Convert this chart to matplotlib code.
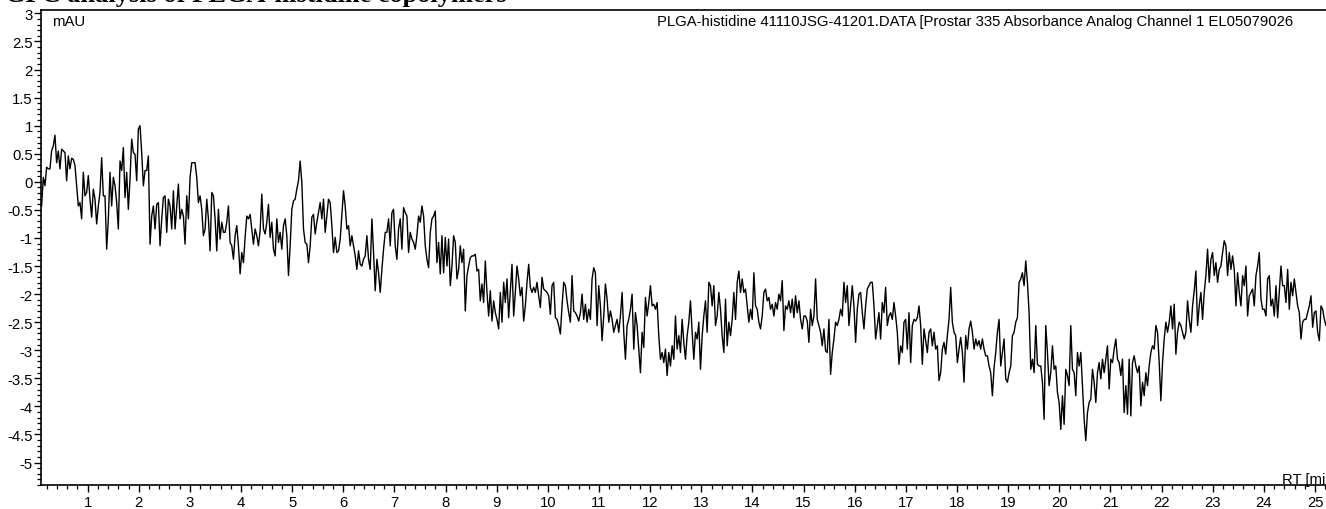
import numpy as np
import matplotlib
matplotlib.use("Agg")
import matplotlib.pyplot as plt
from matplotlib.ticker import MultipleLocator, FuncFormatter

# ---------------- data ----------------
rt_start = 0.10     # min, first sample
rt_end = 25.215     # min, last sample

signal_part1 = [
    -0.43, 0.08, -0.07, 0.26, 0.23, 0.23, 0.55, 0.64, 0.83, 0.34, 0.55, 0.23, 0.58, 0.55, 0.52, 0.02,
    0.46, 0.23, 0.42, 0.40, 0.29, -0.07, -0.43, -0.37, -0.66, 0.17, -0.25, -0.19, 0.11, -0.31, -0.63,
    -0.13, -0.31, -0.75, -0.43, -0.19, 0.43, -0.25, -0.25, -1.20, -0.66, 0.17, -0.43, 0.08, -0.07,
    -0.37, -0.84, 0.37, 0.20, 0.61, -0.28, 0.17, -0.49, 0.05, 0.76, 0.52, 0.49, 0.02, 0.94, 1.00,
    0.52, -0.07, 0.20, 0.20, 0.46, -1.11, -0.61, -0.43, -0.84, -0.40, -0.37, -1.14, -0.66, -0.28,
    -0.25, -0.90, -0.31, -0.43, -0.84, -0.16, -0.84, -0.43, -0.04, -0.66, -0.49, -0.61, -1.11, -0.25,
    -0.66, 0.08, 0.34, 0.34, 0.34, 0.08, -0.37, -0.25, -0.49, -0.96, -0.84, -0.31, -0.66, -1.23,
    -0.19, -0.25, -0.66, -1.23, -0.49, -1.02, -0.72, -0.90, -0.90, -0.72, -0.43, -1.08, -1.14, -1.38,
    -0.96, -0.78, -1.14, -1.64, -1.26, -1.44, -0.99, -0.61, -0.66, -0.58, -0.84, -1.11, -0.84, -0.96,
    -1.14, -0.87, -0.22, -0.84, -0.93, -0.72, -0.40, -0.99, -0.72, -1.20, -1.32, -0.66, -1.08, -0.90,
    -1.20, -0.78, -0.66, -0.96, -1.67, -1.14, -0.49, -0.34, -0.31, -0.13, 0.02, 0.37, -0.01, -0.84,
    -1.08, -1.11, -1.44, -1.14, -0.63, -0.58, -0.93, -0.72, -0.55, -0.37, -0.66, -0.31, -0.90, -0.61,
    -0.31, -0.37, -0.78, -1.26, -0.99, -1.26, -1.23, -1.02, -0.58, -0.16, -0.43, -0.84, -0.78, -1.14,
    -0.96, -1.14, -1.32, -1.56, -1.23, -1.47, -1.50, -1.38, -1.32, -0.96, -1.38, -1.56, -0.66, -1.26,
    -1.94, -1.38, -1.62, -1.97, -1.56, -1.20, -0.90, -0.90, -0.66, -1.14, -0.55, -0.49, -1.14, -1.38,
    -0.84, -0.66, -1.20, -0.46, -0.55, -0.61, -1.26, -0.90, -1.02, -1.08, -1.20, -0.96, -0.61, -0.72,
    -0.43, -0.61, -1.14, -1.38, -1.53, -0.90, -0.66, -0.61, -0.52, -1.44, -1.08, -1.64, -0.96, -1.62,
    -0.99, -1.50, -1.02, -1.85, -1.50, -0.96, -1.08, -1.73, -1.56, -1.14, -1.44, -1.20, -2.30, -1.67,
    -1.50, -1.35, -1.32,
]

signal_part2 = [
    -1.32, -1.29, -1.59, -1.56, -2.12, -1.82, -2.15, -1.41, -1.97, -2.39, -1.94, -2.48, -2.12, -2.33,
    -2.45, -2.62, -1.97, -2.50, -1.79, -2.15, -1.73, -2.42, -1.94, -1.47, -2.39, -1.97, -1.50, -1.73,
    -2.03, -1.88, -2.48, -2.21, -1.79, -1.47, -1.88, -1.97, -1.88, -1.97, -1.79, -2.03, -2.24, -1.70,
    -1.91, -1.94, -1.97, -2.03, -2.36, -1.85, -1.79, -2.42, -2.45, -2.56, -2.71, -2.21, -1.79, -1.85,
    -2.12, -2.33, -2.50, -1.67, -2.30, -2.33, -2.39, -2.48, -2.33, -2.00, -2.45, -2.18, -2.50, -2.27,
    -2.45, -1.73, -1.53, -1.62, -2.56, -1.85, -2.21, -2.83, -2.39, -1.82, -2.09, -2.50, -2.30, -2.45,
    -2.68, -2.56, -2.45, -2.68, -2.39, -1.97, -2.68, -3.16, -2.56, -2.45, -2.27, -2.00, -2.98, -2.33,
    -2.56, -2.98, -3.40, -2.68, -2.95, -2.06, -2.39, -2.15, -1.85, -2.21, -2.18, -2.27, -2.15, -2.74,
    -3.16, -3.04, -3.22, -2.98, -3.45, -3.04, -3.28, -2.92, -3.16, -2.39, -2.98, -2.74, -3.04, -2.45,
    -2.86, -3.16, -2.74, -2.50, -2.12, -2.68, -3.16, -2.68, -2.80, -2.50, -3.34, -2.74, -2.39, -2.12,
    -2.68, -1.79, -1.85, -2.21, -1.85, -2.56, -2.39, -1.97, -2.27, -2.74, -3.04, -2.09, -2.92, -2.50,
    -2.74, -2.45, -1.97, -2.45, -1.79, -1.59, -1.97, -1.73, -1.97, -1.91, -2.21, -2.50, -2.27, -2.45,
    -1.62, -2.21, -2.27, -2.50, -2.62, -2.39, -1.97, -1.91, -2.12, -2.06, -2.27, -2.18, -2.39, -2.15,
    -2.27, -2.00, -2.12, -1.76, -2.65, -2.21, -2.27, -2.12, -2.33, -2.09, -2.42, -2.03, -2.33, -2.12,
    -2.45, -2.62, -2.39, -2.39, -2.48, -2.86, -2.27, -2.56, -2.39, -1.73, -2.45, -2.56, -2.68, -2.92,
    -2.62, -3.01, -3.04, -2.45, -3.43, -3.04, -2.80, -2.50, -2.56, -2.45, -2.27, -2.39, -1.79, -2.15,
    -1.85, -2.56, -2.21, -1.85, -2.21, -2.86, -2.27, -2.00, -1.97, -2.33, -2.62, -2.21, -1.91, -1.85,
    -1.79, -1.79, -2.21, -2.80, -2.56, -2.33, -2.80, -2.15, -2.33, -1.88, -2.56, -2.39, -2.33, -2.45,
    -2.15, -2.39, -2.68, -3.25, -2.92, -3.04, -2.50,
]

signal_part3 = [
    -2.45, -2.98, -2.33, -3.22, -2.56, -2.45, -2.48, -2.42, -2.21, -2.56, -3.25, -2.62, -2.83, -3.04,
    -2.68, -2.62, -2.92, -2.68, -2.98, -2.92, -3.54, -3.40, -2.98, -2.86, -3.07, -2.74, -2.45, -1.88,
    -2.50, -2.68, -2.74, -3.22, -2.98, -2.77, -3.04, -3.57, -2.74, -2.98, -2.62, -2.48, -2.68, -2.98,
    -2.80, -2.92, -2.83, -2.98, -2.80, -2.98, -3.10, -3.10, -3.28, -3.40, -3.81, -3.31, -3.04, -2.68,
    -2.45, -3.28, -3.04, -2.80, -3.51, -3.57, -3.40, -3.28, -2.74, -2.68, -2.50, -2.42, -1.79, -1.73,
    -1.62, -1.85, -1.41, -1.79, -2.33, -3.34, -3.16, -3.40, -2.56, -3.25, -3.28, -3.28, -3.57, -4.23,
    -2.56, -3.04, -3.63, -3.40, -2.92, -3.34, -3.28, -3.75, -3.93, -4.41, -3.81, -4.32, -3.34, -3.45,
    -3.63, -2.56, -3.34, -3.40, -3.81, -3.04, -3.28, -3.04, -3.63, -4.23, -4.61, -4.11, -3.93, -3.87,
    -3.34, -3.57, -3.93, -3.40, -3.22, -3.51, -3.16, -3.40, -3.16, -2.92, -3.69, -3.16, -3.22, -2.98,
    -2.80, -3.16, -3.22, -3.45, -3.16, -4.11, -3.63, -4.14, -3.16, -4.17, -3.22, -3.10, -3.28, -3.40,
    -3.28, -3.99, -3.57, -3.81, -3.40, -3.63, -3.28, -3.04, -2.92, -2.98, -2.56, -2.68, -3.22, -3.90,
    -3.22, -2.80, -2.50, -2.68, -2.50, -2.21, -2.62, -2.18, -3.07, -2.68, -2.50, -2.56, -2.68, -2.80,
    -2.68, -2.12, -2.45, -2.68, -2.21, -1.94, -1.59, -2.56, -2.21, -1.97, -2.45, -1.97, -1.67, -1.20,
    -1.79, -1.38, -1.26, -1.67, -1.44, -1.79, -1.56, -1.50, -1.26, -1.05, -1.14, -1.67, -1.26, -1.56,
    -1.32, -1.56, -2.21, -1.62, -1.97, -2.21, -1.67, -1.85, -1.50, -2.39, -2.03, -1.97, -1.91, -2.21,
    -1.67, -1.50, -1.26, -2.09, -2.27, -2.27, -2.39, -1.73, -1.67, -2.21, -2.09, -2.39, -1.85, -2.42,
    -1.97, -1.50, -1.85, -1.85, -2.15, -1.56, -2.27, -1.79, -2.03, -1.73, -1.97, -2.21, -2.33, -2.80,
    -2.50, -2.45, -2.45, -2.33, -2.21, -2.03, -2.59, -2.33, -2.30, -2.68, -2.83, -2.21, -2.27, -2.45,
    -2.56,
]

y_ticks = [3, 2.5, 2, 1.5, 1, 0.5, 0, -0.5, -1, -1.5, -2, -2.5, -3, -3.5, -4, -4.5, -5]
x_ticks = list(range(1, 26))

title_text = "GPC analysis of PLGA-histidine copolymers"
y_unit = "mAU"
trace_label = "PLGA-histidine 41110JSG-41201.DATA [Prostar 335 Absorbance Analog Channel 1 EL05079026"
x_unit = "RT [min]"

# ---------------- plotting ----------------
signal = np.array(signal_part1 + signal_part2 + signal_part3)
rt = np.linspace(rt_start, rt_end, len(signal))

plt.rcParams['font.family'] = ['Liberation Sans', 'DejaVu Sans']

W, H = 1326, 510
FS = 10.7
fig = plt.figure(figsize=(W / 100, H / 100), dpi=100)
ax = fig.add_axes([41 / W, 24 / H, (1326 - 41) / W, (486 - 11) / H])

ax.plot(rt, signal, color='black', lw=1.0)

ax.set_xlim(0.088, 25.215)
ax.set_ylim(-5.40, 3.06)

ax.spines['right'].set_visible(False)
for s in ['left', 'bottom', 'top']:
    ax.spines[s].set_linewidth(1.2)

ax.set_yticks(y_ticks)
ax.yaxis.set_minor_locator(MultipleLocator(0.1))
ax.set_xticks(x_ticks)
ax.xaxis.set_minor_locator(MultipleLocator(0.2))

fmt = FuncFormatter(lambda v, p: ('%g' % v))
ax.yaxis.set_major_formatter(fmt)
ax.xaxis.set_major_formatter(fmt)

ax.tick_params(axis='both', which='major', direction='out', length=5, width=1.0,
               labelsize=FS, pad=1)
ax.tick_params(axis='both', which='minor', direction='out', length=3, width=0.9)
ax.tick_params(axis='x', which='major', pad=2)

fig.text(52 / W, 1 - 22 / H, y_unit, fontsize=FS, va='center', ha='left')
fig.text(1293 / W, 1 - 22 / H, trace_label, fontsize=FS, va='center', ha='right')
fig.text(1282 / W, 1 - 480 / H, x_unit, fontsize=FS, va='center', ha='left')

fig.text(5 / W, 1 - 2 / H, title_text, fontsize=19, fontweight='bold',
         family=['Liberation Serif', 'DejaVu Serif'], va='baseline', ha='left')

fig.savefig('out.png', dpi=100)
